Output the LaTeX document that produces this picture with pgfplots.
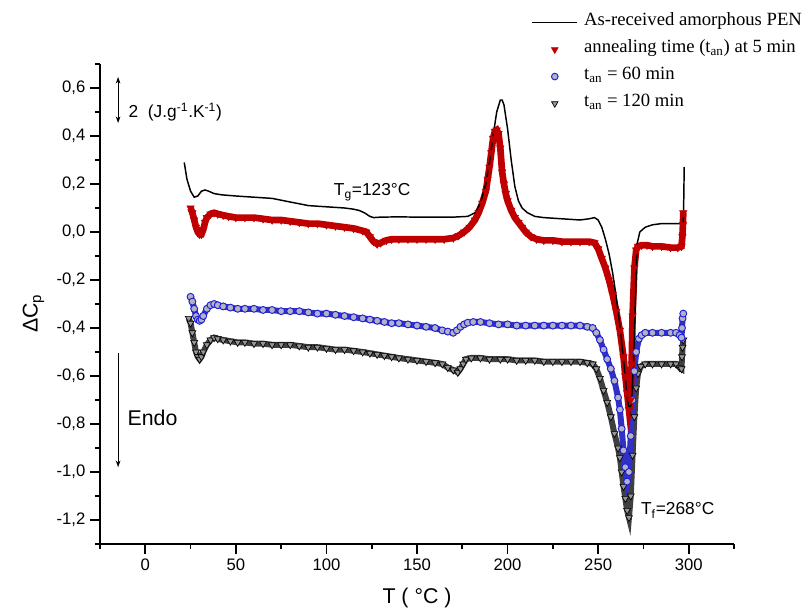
\documentclass[border=0pt]{standalone}
\usepackage{pgfplots}
\pgfplotsset{compat=1.18}
\usepackage{pgfplotstable}
\usepackage{fontspec}
\setmainfont{Liberation Sans}
\newfontfamily\legendfont{Liberation Serif}
\usetikzlibrary{arrows.meta}

\definecolor{cred}{RGB}{192,0,0}
\definecolor{cblue}{RGB}{30,30,215}
\definecolor{cbfill}{RGB}{178,178,196}
\definecolor{cgfill}{RGB}{150,150,150}

% As-received amorphous PEN
\pgfplotstableread{
T dCp
21.5 0.29
23 0.22
25 0.17
27 0.145
29 0.15
31 0.17
33 0.175
35 0.17
38 0.16
42 0.155
50 0.15
60 0.145
70 0.14
80 0.125
90 0.11
100 0.105
110 0.10
115 0.095
118 0.09
121 0.08
124 0.065
126 0.06
130 0.062
140 0.063
150 0.062
160 0.062
170 0.062
178 0.065
182 0.08
185 0.12
188 0.20
190 0.29
192 0.40
194 0.50
196 0.55
197 0.55
198 0.53
200 0.43
202 0.30
204 0.19
206 0.13
208 0.10
211 0.08
215 0.065
220 0.06
230 0.055
240 0.05
245 0.055
248 0.06
250 0.05
252 0.02
254 -0.03
256 -0.09
258 -0.17
260 -0.27
262 -0.39
264 -0.53
266 -0.69
267.5 -0.75
268.5 -0.70
269.5 -0.55
270.5 -0.30
271.5 -0.05
273 0.0
276 0.02
280 0.03
285 0.035
290 0.035
295 0.035
297 0.035
297.3 0.15
297.5 0.27
}\pentab

% annealing 5 min
\pgfplotstableread{
T dCp
25 0.10
26 0.08
27 0.05
28 0.02
29 0.0
30 -0.01
31 -0.01
32 0.01
33 0.04
34 0.06
36 0.075
38 0.08
40 0.075
43 0.07
46 0.065
50 0.06
55 0.06
60 0.06
65 0.055
70 0.05
75 0.05
80 0.045
85 0.04
90 0.035
95 0.035
100 0.03
105 0.025
110 0.02
115 0.015
120 0.005
122 0.0
124 -0.02
126 -0.04
128 -0.05
130 -0.045
133 -0.035
136 -0.03
140 -0.03
145 -0.03
150 -0.03
155 -0.03
160 -0.03
165 -0.03
170 -0.025
173 -0.015
176 0.0
179 0.02
182 0.05
184 0.08
186 0.12
188 0.17
189 0.22
190 0.27
191 0.33
192 0.39
193 0.42
194 0.425
195 0.41
196 0.35
197 0.25
198 0.20
199 0.16
200 0.13
202 0.09
204 0.06
206 0.04
208 0.02
210 0.0
213 -0.02
216 -0.03
220 -0.035
225 -0.035
230 -0.04
235 -0.04
240 -0.04
245 -0.04
248 -0.045
250 -0.07
252 -0.11
254 -0.15
256 -0.20
258 -0.26
260 -0.33
262 -0.41
264 -0.52
265 -0.60
266 -0.67
267 -0.74
268 -0.70
268.5 -0.55
269 -0.35
270 -0.15
271 -0.075
272 -0.06
274 -0.055
277 -0.055
280 -0.06
285 -0.06
290 -0.065
294 -0.065
296 -0.06
296.5 -0.02
296.8 0.03
297 0.08
}\redtab

% t_an = 60 min
\pgfplotstableread{
T dCp
25 -0.27
26 -0.29
27 -0.32
28 -0.35
29 -0.365
30 -0.37
31 -0.365
32 -0.35
34 -0.32
36 -0.305
38 -0.30
40 -0.305
43 -0.31
47 -0.315
51 -0.32
55 -0.32
60 -0.32
65 -0.325
70 -0.325
75 -0.33
80 -0.33
85 -0.33
90 -0.335
95 -0.34
100 -0.34
105 -0.345
110 -0.35
115 -0.355
120 -0.36
124 -0.365
128 -0.37
132 -0.375
136 -0.38
140 -0.38
145 -0.385
150 -0.39
155 -0.395
160 -0.40
164 -0.41
167 -0.415
170 -0.42
172 -0.41
174 -0.395
176 -0.385
178 -0.378
181 -0.375
185 -0.375
190 -0.38
195 -0.385
200 -0.385
205 -0.39
210 -0.39
215 -0.39
220 -0.39
225 -0.39
230 -0.39
235 -0.39
240 -0.39
244 -0.395
247 -0.40
249 -0.42
251 -0.45
253 -0.49
255 -0.53
257 -0.57
259 -0.62
261 -0.69
262 -0.74
263 -0.82
264 -0.91
265 -0.98
266 -1.04
267 -1.00
268 -0.85
269 -0.70
270 -0.58
271 -0.50
272.5 -0.445
274 -0.43
276 -0.42
280 -0.42
285 -0.42
290 -0.42
293 -0.42
295 -0.43
296 -0.44
296.3 -0.40
296.6 -0.36
297 -0.34
}\bluetab

% t_an = 120 min
\pgfplotstableread{
T dCp
24 -0.36
25 -0.38
26 -0.42
27 -0.46
28 -0.50
29 -0.52
30 -0.53
31 -0.52
32 -0.50
34 -0.47
36 -0.45
38 -0.44
40 -0.445
43 -0.45
47 -0.455
51 -0.46
55 -0.46
60 -0.465
65 -0.465
70 -0.47
75 -0.47
80 -0.47
85 -0.475
90 -0.48
95 -0.48
100 -0.485
105 -0.49
110 -0.49
115 -0.495
120 -0.50
124 -0.505
128 -0.51
132 -0.515
136 -0.52
140 -0.525
145 -0.53
150 -0.535
155 -0.54
160 -0.545
164 -0.55
167 -0.565
170 -0.575
172.5 -0.585
174 -0.57
175.5 -0.55
177 -0.53
180 -0.525
185 -0.525
190 -0.53
196 -0.53
200 -0.53
205 -0.535
210 -0.535
215 -0.535
220 -0.54
225 -0.54
230 -0.54
235 -0.54
240 -0.54
244 -0.545
247 -0.55
249 -0.57
251 -0.61
253 -0.66
255 -0.71
257 -0.77
259 -0.84
261 -0.90
262 -0.94
263 -1.00
264 -1.06
265 -1.11
266 -1.16
267 -1.19
268 -1.10
269 -0.93
270 -0.77
271 -0.65
272 -0.59
273.5 -0.56
276 -0.55
280 -0.55
285 -0.55
290 -0.55
293 -0.55
295 -0.565
296 -0.57
296.3 -0.52
296.6 -0.48
297 -0.45
}\greytab

\begin{document}
\begin{tikzpicture}
\useasboundingbox (0,0) rectangle (608.25pt,460.5pt);
\begin{axis}[
  at={(75pt,52.5pt)}, anchor=south west,
  scale only axis, width=475.5pt, height=360pt,
  xmin=-25, xmax=325, ymin=-1.3, ymax=0.7,
  axis x line*=bottom, axis y line*=left,
  axis line style={line width=1.3pt},
  xtick={0,50,...,300}, minor xtick={-25,25,...,325},
  ytick={-1.2,-1.0,-0.8,-0.6,-0.4,-0.2,0,0.2,0.4,0.6},
  minor ytick={-1.3,-1.1,-0.9,-0.7,-0.5,-0.3,-0.1,0.1,0.3,0.5,0.7},
  tick align=outside,
  major tick length=7.5pt, minor tick length=3.75pt,
  every tick/.style={line width=1.2pt, black},
  ticklabel style={font=\fontsize{12.5}{14}\selectfont},
  /pgf/number format/assume math mode=true,
  yticklabel style={/pgf/number format/.cd, fixed, fixed zerofill, precision=1, use comma},
  xlabel={T ( °C )},
  ylabel={ΔC\textsubscript{p}},
  label style={font=\fontsize{16}{18}\selectfont},
  xlabel style={at={(axis description cs:0.5,-0.1125)}, anchor=center},
  ylabel style={at={(axis description cs:-0.105,0.48)}, anchor=center},
  legend image code/.code={\draw[mark repeat=2,mark phase=2,#1] plot coordinates {(0pt,0pt)(17pt,0pt)(34pt,0pt)};},
  legend style={at={(1.117,1.115)}, anchor=north east, draw=none, fill=none,
    font=\legendfont\fontsize{14}{16}\selectfont, row sep=0pt, inner sep=0pt,
    nodes={inner xsep=4.5pt, inner ysep=0pt, text height=12.5pt, text depth=7.75pt}},
  legend cell align=left,
]
\addlegendimage{black, line width=1.1pt}
\addlegendentry{As-received amorphous PEN}
\addlegendimage{only marks, mark=triangle*, mark size=3pt, mark options={rotate=180, fill=cred, draw=cred}}
\addlegendentry{annealing time (t\textsubscript{an}) at 5 min}
\addlegendimage{only marks, mark=*, mark size=2.5pt, mark options={fill=cbfill, draw=cblue, line width=0.7pt}}
\addlegendentry{t\textsubscript{an} = 60 min}
\addlegendimage{only marks, mark=triangle*, mark size=2.8pt, mark options={rotate=180, fill=cgfill, draw=black, line width=0.5pt}}
\addlegendentry{t\textsubscript{an} = 120 min}

% 120 min
\addplot[draw=black!75, line width=4.5pt, forget plot] table {\greytab};
\addplot[only marks, mark=triangle*, mark size=3pt, mark options={rotate=180, fill=cgfill, draw=black, line width=0.5pt}, forget plot] table {\greytab};
% 60 min
\addplot[draw=cblue!80!gray, line width=4.5pt, forget plot] table {\bluetab};
\addplot[only marks, mark=*, mark size=2.6pt, mark options={fill=cbfill, draw=cblue, line width=0.7pt}, forget plot] table {\bluetab};
% 5 min
\addplot[draw=cred, line width=5pt, forget plot] table {\redtab};
\addplot[only marks, mark=triangle*, mark size=3.2pt, mark options={rotate=180, fill=cred, draw=cred}, forget plot] table {\redtab};
% as received
\addplot[black, line width=1.1pt, forget plot] table {\pentab};

% scale arrow and labels
\draw[{Stealth[length=5pt,width=3.5pt]}-{Stealth[length=5pt,width=3.5pt]}, line width=0.7pt]
  (axis cs:-15,0.646) -- (axis cs:-15,0.454);
\node[anchor=west, inner sep=0pt, font=\fontsize{13}{15}\selectfont] at (axis cs:-9.3,0.5)
  {2\ \ (J.g\textsuperscript{-1}.K\textsuperscript{-1})};
\draw[-{Stealth[length=5pt,width=3.5pt]}, line width=0.7pt]
  (axis cs:-15,-0.504) -- (axis cs:-15,-0.98);
\node[anchor=west, inner sep=0pt, font=\fontsize{16}{18}\selectfont] at (axis cs:-9.9,-0.775) {Endo};
\node[anchor=base west, inner sep=0pt, font=\fontsize{13}{15}\selectfont] at (axis cs:104,0.15)
  {T\textsubscript{g}=123°C};
\node[anchor=base west, inner sep=0pt, font=\fontsize{13}{15}\selectfont] at (axis cs:273.6,-1.179)
  {T\textsubscript{f}=268°C};
\end{axis}
\end{tikzpicture}
\end{document}
